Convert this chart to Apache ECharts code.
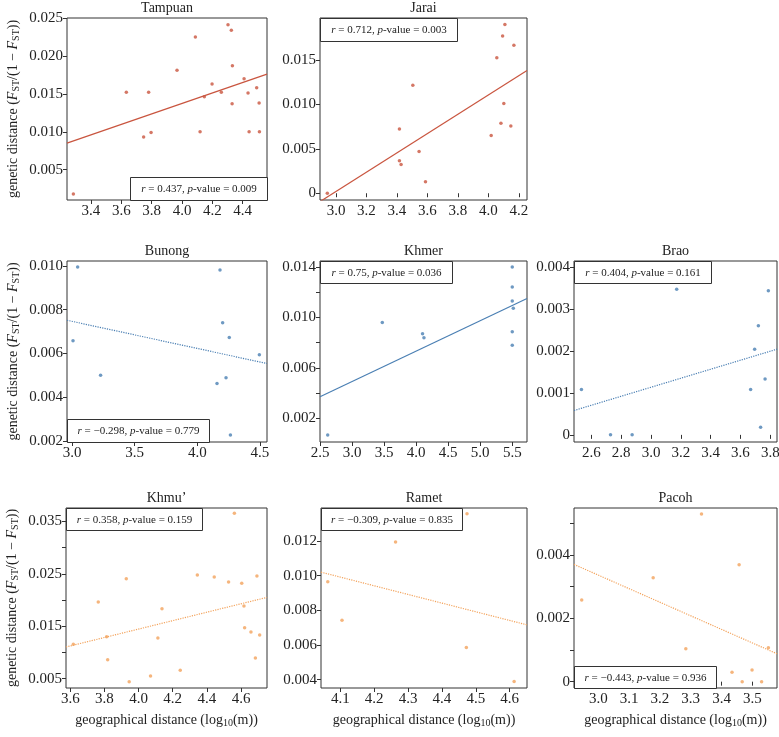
<!DOCTYPE html>
<html><head><meta charset="utf-8">
<script src="https://cdn.jsdelivr.net/npm/echarts@6/dist/echarts.min.js"></script>
<style>html,body{margin:0;padding:0;background:#fff}#c{width:779px;height:737px}</style>
</head><body><div id="c"></div>
<script>
// ---------------- DATA ----------------
const panelNames = ['Tampuan', 'Jarai', 'Bunong', 'Khmer', 'Brao', 'Khmu’', 'Ramet', 'Pacoh'];

const tampuanX = [3.284,3.633,3.747,3.780,3.796,3.967,4.088,4.119,4.147,4.198,4.259,4.303,4.325,4.332,4.330,4.409,4.435,4.442,4.492,4.508,4.510];
const tampuanY = [0.0018,0.0152,0.0093,0.0152,0.0099,0.0181,0.0225,0.0100,0.0146,0.0163,0.0152,0.0241,0.0234,0.0187,0.0137,0.0170,0.0151,0.0100,0.0158,0.0138,0.0100];
const tampuanFitX = [3.242, 4.56];
const tampuanFitY = [0.0085, 0.0176];

const jaraiX = [2.943,3.416,3.416,3.427,3.504,3.545,3.587,4.018,4.055,4.082,4.093,4.101,4.108,4.147,4.167];
const jaraiY = [0.0000,0.00722,0.00365,0.00323,0.01214,0.0047,0.00128,0.0065,0.01523,0.00786,0.01767,0.01008,0.01898,0.00756,0.01665];
const jaraiFitX = [2.895, 4.253];
const jaraiFitY = [-0.00094, 0.0138];

const bunongX = [3.008,3.045,3.228,4.157,4.181,4.202,4.229,4.255,4.264,4.495];
const bunongY = [0.00658,0.00995,0.0050,0.00463,0.00982,0.00741,0.00489,0.00673,0.00227,0.00594];
const bunongFitX = [2.96, 4.556];
const bunongFitY = [0.00752, 0.00554];

const khmerX = [2.62,3.472,4.10,4.122,5.5,5.5,5.5,5.516,5.5,5.5];
const khmerY = [0.00068,0.0096,0.00871,0.00839,0.0140,0.01242,0.01131,0.01073,0.00886,0.0078];
const khmerFitX = [2.5, 5.73];
const khmerFitY = [0.00371, 0.0115];

const braoX = [2.533,2.728,2.873,3.172,3.668,3.695,3.720,3.735,3.765,3.787];
const braoY = [0.00108,0,0,0.00347,0.00108,0.00204,0.0026,0.00018,0.00133,0.00343];
const braoFitX = [2.483, 3.845];
const braoFitY = [0.00058, 0.00204];

const khmuX = [3.618,3.764,3.813,3.819,3.928,3.945,4.070,4.113,4.137,4.244,4.344,4.443,4.527,4.561,4.604,4.617,4.621,4.658,4.684,4.693,4.709];
const khmuY = [0.01155,0.01962,0.0130,0.00862,0.02407,0.00443,0.0055,0.01275,0.01835,0.0066,0.02477,0.02439,0.02343,0.03653,0.02318,0.01886,0.01473,0.0139,0.00894,0.02458,0.01333];
const khmuFitX = [3.575, 4.752];
const khmuFitY = [0.01104, 0.0205];

const rametX = [4.063,4.105,4.263,4.474,4.472,4.613];
const rametY = [0.00964,0.00743,0.01194,0.01357,0.00585,0.00389];
const rametFitX = [4.043, 4.651];
const rametFitY = [0.0102, 0.00716];

const pacohX = [2.946,3.178,3.284,3.335,3.434,3.457,3.467,3.499,3.530,3.552];
const pacohY = [0.00258,0.00328,0.00104,0.00529,0.0003,0.00369,0,0.00037,0,0.00107];
const pacohFitX = [2.921, 3.58];
const pacohFitY = [0.0037, 0.00088];

// axis ranges
const xRanges = [[3.242,4.56],[2.895,4.253],[2.96,4.556],[2.5,5.73],[2.483,3.845],[3.575,4.752],[4.043,4.651],[2.921,3.58]];
const yRanges = [[0.001,0.025],[-0.00076,0.0197],[0.00195,0.01023],[0.00013,0.01447],[-0.00017,0.00414],[0.00322,0.03754],[0.00352,0.0139],[-0.0002,0.00548]];

// tick values / labels
const xTickVals = [
  [3.4,3.6,3.8,4.0,4.2,4.4],
  [3.0,3.2,3.4,3.6,3.8,4.0,4.2],
  [3.0,3.5,4.0,4.5],
  [2.5,3.0,3.5,4.0,4.5,5.0,5.5],
  [2.6,2.8,3.0,3.2,3.4,3.6,3.8],
  [3.6,3.8,4.0,4.2,4.4,4.6],
  [4.1,4.2,4.3,4.4,4.5,4.6],
  [3.0,3.1,3.2,3.3,3.4,3.5]
];
const yTickVals = [
  [0.005,0.010,0.015,0.020,0.025],
  [0,0.005,0.010,0.015],
  [0.002,0.004,0.006,0.008,0.010],
  [0.002,0.004,0.006,0.008,0.010,0.012,0.014],
  [0,0.001,0.002,0.003,0.004],
  [0.005,0.010,0.015,0.020,0.025,0.030,0.035],
  [0.004,0.006,0.008,0.010,0.012],
  [0,0.001,0.002,0.003,0.004,0.005]
];
const yLabelVals = [
  [0.005,0.010,0.015,0.020,0.025],
  [0,0.005,0.010,0.015],
  [0.002,0.004,0.006,0.008,0.010],
  [0.002,0.006,0.010,0.014],
  [0,0.001,0.002,0.003,0.004],
  [0.005,0.015,0.025,0.035],
  [0.004,0.006,0.008,0.010,0.012],
  [0,0.002,0.004]
];
const statR = ['0.437','0.712','−0.298','0.75','0.404','0.358','−0.309','−0.443'];
const statP = ['0.009','0.003','0.779','0.036','0.161','0.159','0.835','0.936'];

const yAxisTitle = '{n|genetic distance (}{i|F}{s|ST}{n|/(1 − }{i|F}{s|ST}{n|))}';
const xAxisTitle = '{n|geographical distance (log}{s|10}{n|(m))}';

// ---------------- LAYOUT / STYLE ----------------
const FONT = '"Liberation Serif","DejaVu Serif","Times New Roman",serif';
const RED = '#c9553f', BLUE = '#4a7fb3', ORANGE = '#f3a35c';
const layout = [
  {l:67, t:18, w:200, h:182},
  {l:320,t:18, w:207, h:182},
  {l:67, t:261,w:200, h:181},
  {l:320,t:261,w:207, h:181},
  {l:574,t:261,w:203, h:181},
  {l:66, t:508,w:201, h:180},
  {l:321,t:508,w:206, h:180},
  {l:574,t:508,w:203, h:180}
];
const statBox = [
  {c:'br',w:137,h:23},{c:'tl',w:137,h:23},{c:'bl',w:142,h:23},{c:'tl',w:132,h:22},
  {c:'tl',w:137,h:22},{c:'tl',w:136,h:22},{c:'tl',w:141,h:22},{c:'bl',w:142,h:22}
];
const colors = [RED,RED,BLUE,BLUE,BLUE,ORANGE,ORANGE,ORANGE];
const lineTypes = ['solid','solid','dotted','solid','dotted','dotted','dotted','dotted'];
const showYName = [true,false,true,false,false,true,false,false];
const showXName = [false,false,false,false,false,true,true,true];

const xs = [tampuanX,jaraiX,bunongX,khmerX,braoX,khmuX,rametX,pacohX];
const ys = [tampuanY,jaraiY,bunongY,khmerY,braoY,khmuY,rametY,pacohY];
const fx = [tampuanFitX,jaraiFitX,bunongFitX,khmerFitX,braoFitX,khmuFitX,rametFitX,pacohFitX];
const fy = [tampuanFitY,jaraiFitY,bunongFitY,khmerFitY,braoFitY,khmuFitY,rametFitY,pacohFitY];

const nameRich = {
  n: {fontFamily: FONT, fontSize: 14, color: '#222', lineHeight: 16},
  i: {fontFamily: FONT, fontSize: 14, fontStyle: 'italic', color: '#222', lineHeight: 16},
  s: {fontFamily: FONT, fontSize: 10, color: '#222', lineHeight: 8, verticalAlign: 'bottom'}
};

const grids = [], xAxes = [], yAxes = [], series = [], titles = [], graphics = [];
layout.forEach((g, k) => {
  grids.push({left: g.l, top: g.t, width: g.w, height: g.h, show: true,
    borderColor: '#333', borderWidth: 1, backgroundColor: 'transparent',
    containLabel: false, outerBoundsMode: 'none'});
  xAxes.push({
    type: 'value', gridIndex: k, min: xRanges[k][0], max: xRanges[k][1],
    axisLine: {show: false}, splitLine: {show: false},
    axisTick: {show: true, customValues: xTickVals[k], length: 4, lineStyle: {color: '#333'}},
    axisLabel: {customValues: xTickVals[k], formatter: v => v.toFixed(1),
      fontFamily: FONT, fontSize: 15, color: '#222', margin: 4},
    name: showXName[k] ? xAxisTitle : '', nameLocation: 'middle', nameGap: 24,
    nameTextStyle: {rich: nameRich}
  });
  yAxes.push({
    type: 'value', gridIndex: k, min: yRanges[k][0], max: yRanges[k][1],
    axisLine: {show: false}, splitLine: {show: false},
    axisTick: {show: true, customValues: yTickVals[k], length: 4, lineStyle: {color: '#333'}},
    axisLabel: {customValues: yLabelVals[k], formatter: v => (Math.abs(v) < 1e-12 ? '0' : v.toFixed(3)),
      fontFamily: FONT, fontSize: 15, color: '#222', margin: 4},
    name: showYName[k] ? yAxisTitle : '', nameLocation: 'middle', nameGap: 46, nameRotate: 90,
    nameTextStyle: {rich: nameRich}
  });
  series.push({
    type: 'scatter', xAxisIndex: k, yAxisIndex: k, symbolSize: 3.5, silent: true,
    itemStyle: {color: colors[k]},
    data: xs[k].map((x, j) => [x, ys[k][j]])
  });
  series.push({
    type: 'line', xAxisIndex: k, yAxisIndex: k, symbol: 'none', showSymbol: false, silent: true, clip: true,
    lineStyle: {color: colors[k], width: 1.2, type: lineTypes[k]},
    data: fx[k].map((x, j) => [x, fy[k][j]])
  });
  titles.push({
    text: panelNames[k], left: g.l + g.w / 2, top: g.t - 17, textAlign: 'center', padding: 0,
    textStyle: {fontFamily: FONT, fontSize: 14, fontWeight: 'normal', color: '#222'}
  });
  const b = statBox[k];
  const bx = b.c[1] === 'l' ? g.l : g.l + g.w - b.w;
  const by = b.c[0] === 't' ? g.t : g.t + g.h - b.h;
  graphics.push({
    type: 'group', x: bx, y: by, z: 100,
    children: [
      {type: 'rect', z: 100, shape: {x: 0.5, y: 0.5, width: b.w, height: b.h},
        style: {fill: '#fff', stroke: '#333', lineWidth: 1}},
      {type: 'text', z: 101, x: b.w / 2 + 0.5, y: b.h / 2 + 1,
        style: {text: '{i|r} = ' + statR[k] + ', {i|p}-value = ' + statP[k],
          fontFamily: FONT, fontSize: 11, fill: '#222', align: 'center', verticalAlign: 'middle',
          rich: {i: {fontFamily: FONT, fontSize: 11, fontStyle: 'italic', fill: '#222'}}}}
    ]
  });
});

const chart = echarts.init(document.getElementById('c'), null, {renderer: 'canvas'});
chart.setOption({
  animation: false,
  backgroundColor: '#fff',
  title: titles,
  grid: grids,
  xAxis: xAxes,
  yAxis: yAxes,
  series: series,
  graphic: graphics
});
</script>
</body></html>
